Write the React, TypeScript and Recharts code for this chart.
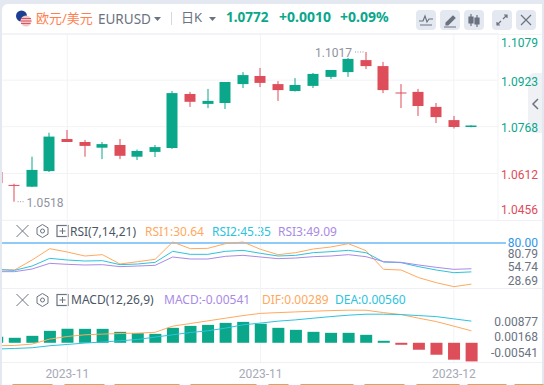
import { ComposedChart, Bar, Line, XAxis, YAxis, CartesianGrid, Cell, ReferenceLine, ReferenceDot } from 'recharts';

const dates = [
  '2023-10-26', '2023-10-27', '2023-10-30', '2023-10-31', '2023-11-01', '2023-11-02', '2023-11-03',
  '2023-11-06', '2023-11-07', '2023-11-08', '2023-11-09', '2023-11-10', '2023-11-13', '2023-11-14',
  '2023-11-15', '2023-11-16', '2023-11-17', '2023-11-20', '2023-11-21', '2023-11-22', '2023-11-23',
  '2023-11-24', '2023-11-27', '2023-11-28', '2023-11-29', '2023-11-30', '2023-12-01', '2023-12-04',
];
const opens = [
  1.0617, 1.0574, 1.0568, 1.0620, 1.0727, 1.0717, 1.0698, 1.0707, 1.0668, 1.0684, 1.0697, 1.0877, 1.0844, 1.0847,
  1.0910, 1.0937, 1.0910, 1.0887, 1.0904, 1.0934, 1.0950, 1.0990, 1.0970, 1.0882, 1.0884, 1.0834, 1.0790, 1.0767,
];
const closes = [
  1.0580, 1.0573, 1.0624, 1.0735, 1.0717, 1.0704, 1.0710, 1.0671, 1.0687, 1.0700, 1.0880, 1.0851, 1.0854, 1.0917,
  1.0940, 1.0914, 1.0890, 1.0907, 1.0944, 1.0957, 1.0994, 1.0970, 1.0890, 1.0881, 1.0837, 1.0800, 1.0767, 1.0772,
];
const highs = [
  1.0620, 1.0578, 1.0668, 1.0748, 1.0757, 1.0724, 1.0717, 1.0727, 1.0692, 1.0707, 1.0887, 1.0884, 1.0894, 1.0917,
  1.0950, 1.0964, 1.0920, 1.0930, 1.0947, 1.0957, 1.0997, 1.1017, 1.0984, 1.0910, 1.0894, 1.0847, 1.0804, 1.0773,
];
const lows = [
  1.0575, 1.0518, 1.0567, 1.0617, 1.0717, 1.0668, 1.0660, 1.0660, 1.0657, 1.0667, 1.0694, 1.0834, 1.0830, 1.0827,
  1.0897, 1.0900, 1.0854, 1.0885, 1.0897, 1.0927, 1.0934, 1.0960, 1.0880, 1.0830, 1.0804, 1.0780, 1.0762, 1.0766,
];
const rsi1 = [
  48.2, 47.6, 59.6, 73.2, 69.2, 64.4, 66, 54.8, 57.6, 60.4, 81.2, 73.2, 73.6, 79.2,
  81.2, 72.4, 66, 68.4, 72.8, 75.2, 79.2, 70.8, 48.4, 47.6, 38.4, 32.4, 27.6, 30.64,
];
const rsi2 = [
  48, 47.2, 52.4, 61.6, 59.6, 58.4, 58.8, 54, 54.8, 56.8, 70, 66.4, 66.4, 70,
  71.2, 67.6, 64.4, 65.2, 68.4, 69.6, 71.2, 68.4, 57.2, 56.4, 51.6, 47.6, 44.4, 45.35,
];
const rsi3 = [
  45.6, 45.6, 48.8, 55.6, 54.4, 53.6, 54, 51.6, 52.4, 53.2, 63.2, 60.8, 60.8, 64,
  65.2, 63.2, 61.2, 62, 63.6, 64.4, 66, 63.6, 57.6, 56.8, 53.6, 50.8, 48.4, 49.09,
];
const dif = [
  -0.00131, -0.00123, -0.00084, 0.00056, 0.00128, 0.00176, 0.00196, 0.00212, 0.00223, 0.00246, 0.00419, 0.00492, 0.00567, 0.00642,
  0.00715, 0.00777, 0.00799, 0.00818, 0.00838, 0.00855, 0.00866, 0.00866, 0.00799, 0.00743, 0.00642, 0.00547, 0.00419, 0.00289,
];
const dea = [
  -0.00223, -0.00207, -0.00187, -0.00131, -0.00095, -0.00056, -0.00028, 0.00008, 0.00045, 0.00112, 0.00176, 0.0024, 0.00288, 0.00363,
  0.00455, 0.00506, 0.00559, 0.00595, 0.00642, 0.00687, 0.00726, 0.00754, 0.00754, 0.00743, 0.00715, 0.00687, 0.00623, 0.0056,
];
const macd = [
  0.00174, 0.00145, 0.00202, 0.00347, 0.00405, 0.00405, 0.00405, 0.00318, 0.0028, 0.0026, 0.00434, 0.00491, 0.0052, 0.00578,
  0.00607, 0.0055, 0.00434, 0.00376, 0.00318, 0.00289, 0.00289, 0.00231, 0.00058, -0.00058, -0.00202, -0.00347, -0.00491, -0.00541,
];
const priceTicks = [1.1079, 1.0923, 1.0768, 1.0612, 1.0456];
const rsiTicks = [80, 80.79, 54.74, 28.69];
const macdTicks = [0.00877, 0.00168, -0.00541];
const timeTicks = [4, 15, 26];

const rows = dates.map((date, i) => ({
  i, date,
  open: opens[i], close: closes[i], high: highs[i], low: lows[i],
  rsi1: rsi1[i], rsi2: rsi2[i], rsi3: rsi3[i],
  dif: dif[i], dea: dea[i], macd: macd[i],
}));

const UP = '#0aa78b';
const DOWN = '#dd4d5a';
const ORANGE = '#ffa95e';
const CYAN = '#2cc3de';
const PURPLE = '#a98ae6';
const GRID = '#f1f3f7';
const FRAME = '#e4e8f0';
const FONT = 'Roboto, "Noto Sans CJK SC", sans-serif';
const HEAD_FONT = '"Noto Sans", "Noto Sans CJK SC", sans-serif';
const xDomain: [number, number] = [0.2846, 28.514];
const LABEL_RIGHT = 538;

// candle drawn from the range bar: the library gives the high-low box
function Candle(props: any) {
  const { x, y, width, height, payload } = props;
  const k = height / (payload.high - payload.low);
  const top = y + (payload.high - Math.max(payload.open, payload.close)) * k;
  const bodyH = Math.max(Math.abs(payload.open - payload.close) * k, 1);
  const color = payload.close >= payload.open ? UP : DOWN;
  const mid = Math.round(x + width / 2);
  return (
    <g>
      <rect x={mid - 0.5} y={y} width={1} height={height} fill={color} />
      <rect x={mid - 5.5} y={top} width={11} height={bodyH} fill={color} />
    </g>
  );
}

function PriceTick({ y, payload, index }: any) {
  const v = payload.value;
  const nudge = index === 0 ? 9.5 : index === priceTicks.length - 1 ? -10 : 1.5;
  return (
    <text x={LABEL_RIGHT} y={y + nudge} dy={4} textAnchor="end" fontSize={12} fontFamily={FONT} fill={v > 1.076 ? UP : DOWN}>
      {v.toFixed(4)}
    </text>
  );
}

function RsiTick({ y, payload }: any) {
  const v = payload.value;
  const nudge = v === 80 ? 0 : v === 80.79 ? 11.5 : v === 54.74 ? 3 : -4.5;
  return (
    <text x={LABEL_RIGHT} y={y + nudge} dy={4} textAnchor="end" fontSize={12} fontFamily={FONT} fill={v === 80 ? '#2e96e8' : '#6b7280'}>
      {v.toFixed(2)}
    </text>
  );
}

function MacdTick({ y, payload }: any) {
  const v = payload.value;
  const nudge = v > 0.005 ? 9.3 : v < 0 ? -8 : 0.3;
  return (
    <text x={LABEL_RIGHT} y={y + nudge} dy={4} textAnchor="end" fontSize={12} fontFamily={FONT} fill="#6b7280">
      {v.toFixed(5)}
    </text>
  );
}

function ExtremeLabel({ viewBox, text, side }: any) {
  const x = viewBox.x + (viewBox.width ?? 0) / 2;
  const y = viewBox.y + (viewBox.height ?? 0) / 2;
  const left = side === 'left';
  return (
    <g>
      <line x1={left ? x - 11 : x + 3} x2={left ? x - 2 : x + 10} y1={y} y2={y} stroke="#9a9eaa" strokeDasharray="1 1.5" />
      <text x={left ? x - 14 : x + 12} y={y + 5} textAnchor={left ? 'end' : 'start'} fontSize={12} fontFamily={FONT} fill="#8f93a0">
        {text}
      </text>
    </g>
  );
}

const sharedX = (
  <XAxis dataKey="i" type="number" domain={xDomain} allowDataOverflow ticks={timeTicks} hide />
);

function HeadIcons() {
  return (
    <g fill="none" stroke="#6b7280" strokeWidth={1}>
      <path d="M0 -6 L12 6 M12 -6 L0 6" />
      <path d="M26 -6.5 L31.5 -3.2 L31.5 3.2 L26 6.5 L20.5 3.2 L20.5 -3.2 Z" />
      <circle cx={26} cy={0} r={2} />
      <rect x={40.5} y={-5.5} width={11} height={11} strokeWidth={1.2} />
      <path d="M43 0 H49 M46 -3 V3" />
    </g>
  );
}

function Txt({ x, y, color, size = 12, bold, children }: any) {
  return (
    <div style={{ position: 'absolute', left: x, top: y, color, fontSize: size, fontWeight: bold ? 700 : 400, lineHeight: '16px', whiteSpace: 'nowrap', fontFamily: HEAD_FONT }}>
      {children}
    </div>
  );
}

function Btn({ x, children }: any) {
  return (
    <svg width={20} height={20} style={{ position: 'absolute', left: x, top: 10, background: FRAME, borderRadius: 4 }}>
      <g fill="none" stroke="#6b7280" strokeWidth={1.2}>{children}</g>
    </svg>
  );
}

const footBars = [[12, 53], [64, 105], [114, 180], [190, 257], [268, 289], [300, 354], [364, 405], [416, 460], [467, 507], [514, 544]];

export default function App() {
  return (
    <div style={{ position: 'absolute', left: 0, top: 0, width: 544, height: 385, background: FRAME, overflow: 'hidden', fontFamily: FONT }}>
      <div style={{ position: 'absolute', left: 2, top: 4, width: 540, height: 381, background: '#fff', borderTopLeftRadius: 6 }} />

      {/* pane separators */}
      <div style={{ position: 'absolute', left: 2, top: 34, width: 540, height: 1, background: GRID }} />
      <div style={{ position: 'absolute', left: 2, top: 220, width: 540, height: 1, background: '#eef0f5' }} />
      <div style={{ position: 'absolute', left: 2, top: 288, width: 540, height: 1, background: '#eef0f5' }} />
      <div style={{ position: 'absolute', left: 2, top: 362, width: 540, height: 1, background: '#eef0f5' }} />

      {/* side handle */}
      <div style={{ position: 'absolute', left: 528, top: 73, width: 14, height: 60, background: '#f0f1f5', borderRadius: '6px 0 0 6px' }} />
      <svg width={10} height={14} style={{ position: 'absolute', left: 531, top: 97 }}>
        <path d="M7 2 L2 7 L7 12" fill="none" stroke="#6b7280" strokeWidth={1.5} />
      </svg>

      {/* header */}
      <svg width={20} height={20} style={{ position: 'absolute', left: 15, top: 9 }}>
        <circle cx={6.5} cy={7} r={5.5} fill="#1c3f94" />
        <circle cx={11} cy={12} r={5.5} fill="#f3c7c9" />
        <path d="M6 9.5 H16 M6 12 H16.5 M6 14.5 H15.5" stroke="#d9545f" strokeWidth={1} />
      </svg>
      <Txt x={36} y={10} color="#ff7f50" size={13}>欧元/美元</Txt>
      <Txt x={98} y={11} color="#6b7280" size={13.5}>EURUSD</Txt>
      <svg width={8} height={6} style={{ position: 'absolute', left: 154, top: 16 }}><path d="M0 1 H7 L3.5 5 Z" fill="#6b7280" /></svg>
      <div style={{ position: 'absolute', left: 171, top: 12, width: 1, height: 13, background: '#d5d8e0' }} />
      <Txt x={181} y={9} color="#6b7280" size={13}>日K</Txt>
      <svg width={8} height={6} style={{ position: 'absolute', left: 209, top: 16 }}><path d="M0 1 H7 L3.5 5 Z" fill="#6b7280" /></svg>
      <Txt x={226} y={9} color={UP} size={13.5} bold>1.0772</Txt>
      <Txt x={279} y={9} color={UP} size={14} bold>+0.0010</Txt>
      <Txt x={340} y={9} color={UP} size={14} bold>+0.09%</Txt>
      <Btn x={416}><path d="M3 11 L7 11 L9 6 L11 12 L13 9 L17 9 M4 15 H16" /></Btn>
      <Btn x={440}><path d="M6 13 L13 6 L15 8 L8 15 L6 15 Z M4 17 H16" fill="#6b7280" /></Btn>
      <Btn x={464}><path d="M7 4 V16 M13 5 V17" /><path d="M5 7 H9 V13 H5 Z M11 8 H15 V14 H11 Z" fill="#6b7280" /></Btn>
      <Btn x={492}><path d="M5 15 L9 11 M11 9 L15 5 M12 5 H15 V8 M5 12 V15 H8" /></Btn>
      <Btn x={516}><path d="M5 5 L15 15 M15 5 L5 15" /></Btn>

      {/* RSI and MACD titles */}
      <svg width={60} height={20} style={{ position: 'absolute', left: 16, top: 221 }}>
        <g transform="translate(0.5,10)"><HeadIcons /></g>
      </svg>
      <Txt x={70} y={224} color="#4b5563">RSI(7,14,21)</Txt>
      <Txt x={145} y={224} color={ORANGE}>RSI1:30.64</Txt>
      <Txt x={212} y={224} color={CYAN}>RSI2:45.35</Txt>
      <Txt x={278} y={224} color={PURPLE}>RSI3:49.09</Txt>
      <svg width={60} height={20} style={{ position: 'absolute', left: 16, top: 290 }}>
        <g transform="translate(0.5,10)"><HeadIcons /></g>
      </svg>
      <Txt x={71} y={292} color="#4b5563">MACD(12,26,9)</Txt>
      <Txt x={164} y={292} color={PURPLE}>MACD:-0.00541</Txt>
      <Txt x={262} y={292} color={ORANGE}>DIF:0.00289</Txt>
      <Txt x={335} y={292} color={CYAN}>DEA:0.00560</Txt>

      {/* candles */}
      <div style={{ position: 'absolute', left: 0, top: 33 }}>
        <ComposedChart width={544} height={188} data={rows} margin={{ top: 0, right: 0, bottom: 0, left: 2 }}>
          <CartesianGrid stroke={GRID} verticalValues={timeTicks} horizontalValues={priceTicks} />
          {sharedX}
          <YAxis
            orientation="right"
            width={46}
            domain={[1.04537, 1.10803]}
            allowDataOverflow
            ticks={priceTicks}
            tick={<PriceTick />}
            interval={0}
            axisLine={{ stroke: GRID }}
            tickLine={false}
          />
          <Bar dataKey={(d: any) => [d.low, d.high]} barSize={11} shape={<Candle />} isAnimationActive={false} />
          <ReferenceDot x={21} y={1.1017} r={0} fill="none" stroke="none" label={<ExtremeLabel text="1.1017" side="left" />} />
          <ReferenceDot x={1} y={1.0518} r={0} fill="none" stroke="none" label={<ExtremeLabel text="1.0518" side="right" />} />
        </ComposedChart>
      </div>

      {/* RSI */}
      <div style={{ position: 'absolute', left: 498, top: 242, width: 8, height: 2, background: '#90caf9' }} />
      <div style={{ position: 'absolute', left: 0, top: 220 }}>
        <ComposedChart width={544} height={68} data={rows} margin={{ top: 0, right: 0, bottom: 0, left: 2 }}>
          <CartesianGrid stroke={GRID} horizontal={false} verticalValues={timeTicks} />
          {sharedX}
          <YAxis
            orientation="right"
            width={46}
            domain={[26, 107.6]}
            allowDataOverflow
            ticks={rsiTicks}
            tick={<RsiTick />}
            interval={0}
            axisLine={false}
            tickLine={false}
          />
          <ReferenceLine y={80} stroke="#90caf9" strokeWidth={2} />
          <Line dataKey="rsi1" stroke={ORANGE} strokeWidth={1} dot={false} isAnimationActive={false} />
          <Line dataKey="rsi2" stroke={CYAN} strokeWidth={1} dot={false} isAnimationActive={false} />
          <Line dataKey="rsi3" stroke={PURPLE} strokeWidth={1} dot={false} isAnimationActive={false} />
        </ComposedChart>
      </div>

      {/* MACD */}
      <div style={{ position: 'absolute', left: 0, top: 288 }}>
        <ComposedChart width={544} height={92} data={rows} margin={{ top: 0, right: 0, bottom: 0, left: 2 }}>
          <CartesianGrid stroke={GRID} horizontal={false} verticalValues={timeTicks} />
          <XAxis
            dataKey="i"
            type="number"
            domain={xDomain}
            allowDataOverflow
            ticks={timeTicks}
            interval={0}
            height={18}
            axisLine={false}
            tickLine={false}
            tickFormatter={(v: number) => dates[v].slice(0, 7)}
            tick={{ fill: '#a6aab6', fontSize: 12, fontFamily: FONT }}
            tickMargin={1}
          />
          <YAxis
            yAxisId="hist"
            orientation="right"
            width={46}
            domain={[-0.00558, 0.01591]}
            allowDataOverflow
            ticks={macdTicks}
            tick={<MacdTick />}
            interval={0}
            axisLine={false}
            tickLine={false}
          />
          <YAxis yAxisId="lines" orientation="right" hide domain={[-0.00587, 0.01489]} allowDataOverflow />
          <Bar yAxisId="hist" dataKey="macd" barSize={12} isAnimationActive={false}>
            {rows.map((r) => (
              <Cell key={r.i} fill={r.macd >= 0 ? UP : DOWN} />
            ))}
          </Bar>
          <Line yAxisId="lines" dataKey="dif" stroke={ORANGE} strokeWidth={1} dot={false} isAnimationActive={false} />
          <Line yAxisId="lines" dataKey="dea" stroke={CYAN} strokeWidth={1} dot={false} isAnimationActive={false} />
        </ComposedChart>
      </div>

      {/* strip cut off at the bottom edge */}
      {footBars.map(([a, b]) => (
        <div key={a} style={{ position: 'absolute', left: a, top: 384, width: b - a, height: 3, background: '#d9a55a', borderRadius: 2 }} />
      ))}
    </div>
  );
}
